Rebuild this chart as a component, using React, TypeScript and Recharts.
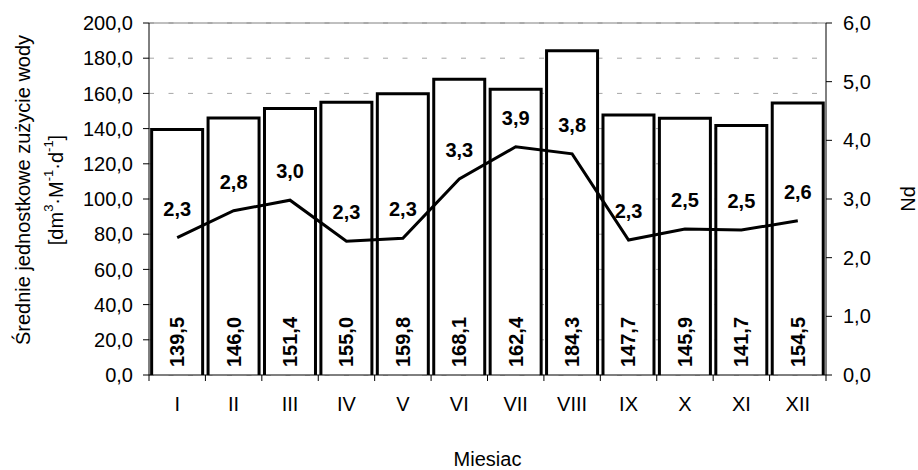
import React from 'react';
import {
  ComposedChart,
  Bar,
  Line,
  XAxis,
  YAxis,
  CartesianGrid,
  ReferenceLine,
  LabelList,
  Label,
} from 'recharts';

const months = ['I', 'II', 'III', 'IV', 'V', 'VI', 'VII', 'VIII', 'IX', 'X', 'XI', 'XII'];
const usage = [139.5, 146.0, 151.4, 155.0, 159.8, 168.1, 162.4, 184.3, 147.7, 145.9, 141.7, 154.5];
const nd = [2.34, 2.8, 2.98, 2.28, 2.33, 3.34, 3.89, 3.77, 2.3, 2.49, 2.47, 2.63];
const leftTicks = [0, 20, 40, 60, 80, 100, 120, 140, 160, 180, 200];
const rightTicks = [0, 1, 2, 3, 4, 5, 6];

const data = months.map((m, i) => ({ month: m, usage: usage[i], nd: nd[i] }));

const FONT = '"Liberation Sans", Arial, sans-serif';
const fmt = (v: number) => Number(v).toFixed(1).replace('.', ',');

const W = 918;
const H = 470;
const PLOT_LEFT = 149;
const PLOT_RIGHT = 826;
const BAND = (PLOT_RIGHT - PLOT_LEFT) / months.length;

const LeftTick = (props: any) => {
  const { x, y, payload } = props;
  return (
    <text x={x} y={y} dy="0.355em" textAnchor="end" fontFamily={FONT} fontSize={20} fill="#000">
      {fmt(payload.value)}
    </text>
  );
};

const RightTick = (props: any) => {
  const { x, y, payload } = props;
  return (
    <text x={x} y={y} dy="0.355em" textAnchor="start" fontFamily={FONT} fontSize={20} fill="#000">
      {fmt(payload.value)}
    </text>
  );
};

const XTick = (props: any) => {
  const { x, y, payload, index } = props;
  const axisY = y - 8;
  const left = x - BAND / 2;
  const right = x + BAND / 2;
  return (
    <g>
      <line x1={left} y1={axisY} x2={left} y2={axisY + 6} stroke="#000" strokeWidth={1} />
      {index === months.length - 1 && (
        <line x1={right} y1={axisY} x2={right} y2={axisY + 6} stroke="#000" strokeWidth={1} />
      )}
      <text x={x} y={axisY + 29} dy="0.355em" textAnchor="middle" fontFamily={FONT} fontSize={20} fill="#000">
        {payload.value}
      </text>
    </g>
  );
};

const BarShape = (props: any) => {
  const { x, y, width, height } = props;
  if (width == null || height == null) return null;
  return (
    <g>
      <rect x={x} y={y} width={width} height={height} fill="#fff" stroke="none" />
      <path
        d={`M${x},${y + height} L${x},${y} L${x + width},${y} L${x + width},${y + height}`}
        fill="none"
        stroke="#000"
        strokeWidth={3}
      />
    </g>
  );
};

const BarValueLabel = (props: any) => {
  const vb = props.viewBox ?? props;
  const x = vb.x ?? props.x;
  const y = vb.y ?? props.y;
  const width = vb.width ?? props.width;
  const height = vb.height ?? props.height;
  const cx = x + width / 2;
  const cy = y + height - 33;
  return (
    <text
      x={cx}
      y={cy}
      transform={`rotate(-90, ${cx}, ${cy})`}
      textAnchor="middle"
      dominantBaseline="central"
      fontFamily={FONT}
      fontSize={20}
      fontWeight="bold"
      fill="#000"
    >
      {fmt(props.value)}
    </text>
  );
};

const LineValueLabel = (props: any) => {
  const vb = props.viewBox ?? props;
  const x = vb.x ?? props.x;
  const y = vb.y ?? props.y;
  return (
    <text
      x={x}
      y={y - 29}
      textAnchor="middle"
      dominantBaseline="central"
      fontFamily={FONT}
      fontSize={20}
      fontWeight="bold"
      fill="#000"
    >
      {fmt(props.value)}
    </text>
  );
};

const LeftTitle = (props: any) => {
  const vb = props.viewBox;
  const cy = vb.y + vb.height / 2 - 9;
  const x1 = 23;
  const x2 = 56;
  return (
    <g>
      <text
        x={x1}
        y={cy}
        transform={`rotate(-90, ${x1}, ${cy})`}
        textAnchor="middle"
        dominantBaseline="central"
        fontFamily={FONT}
        fontSize={20}
        fill="#000"
      >
        Średnie jednostkowe zużycie wody
      </text>
      <text
        x={x2}
        y={cy}
        transform={`rotate(-90, ${x2}, ${cy})`}
        textAnchor="middle"
        dominantBaseline="central"
        fontFamily={FONT}
        fontSize={20}
        fill="#000"
      >
        <tspan>[dm</tspan>
        <tspan fontSize={13} dy={-8}>3</tspan>
        <tspan dy={8}>·M</tspan>
        <tspan fontSize={13} dy={-8}>-1</tspan>
        <tspan dy={8}>·d</tspan>
        <tspan fontSize={13} dy={-8}>-1</tspan>
        <tspan dy={8}>]</tspan>
      </text>
    </g>
  );
};

const RightTitle = (props: any) => {
  const vb = props.viewBox;
  const cx = vb.x + 82;
  const cy = vb.y + vb.height / 2;
  return (
    <text
      x={cx}
      y={cy}
      transform={`rotate(-90, ${cx}, ${cy})`}
      textAnchor="middle"
      dominantBaseline="central"
      fontFamily={FONT}
      fontSize={20}
      fill="#000"
    >
      Nd
    </text>
  );
};

const XTitle = (props: any) => {
  const vb = props.viewBox;
  const cx = vb.x + vb.width / 2;
  const cy = vb.y + 84;
  return (
    <text x={cx} y={cy} textAnchor="middle" dominantBaseline="central" fontFamily={FONT} fontSize={20} fill="#000">
      Miesiac
    </text>
  );
};

export default function App() {
  return (
    <div style={{ position: 'absolute', left: 0, top: 0, width: W, height: H, background: '#fff' }}>
      <ComposedChart
        width={W}
        height={H}
        data={data}
        margin={{ top: 23, right: 0, bottom: 0, left: 0 }}
        barCategoryGap="4.7%"
      >
        <CartesianGrid
          yAxisId="left"
          vertical={false}
          horizontal={true}
          stroke="#a6a6a6"
          strokeDasharray="5 14.5"
        />
        <XAxis
          dataKey="month"
          height={95}
          tick={<XTick />}
          tickLine={false}
          tickSize={0}
          tickMargin={8}
          axisLine={{ stroke: '#000', strokeWidth: 1 }}
          interval={0}
        >
          <Label content={<XTitle />} />
        </XAxis>
        <YAxis
          yAxisId="left"
          orientation="left"
          width={149}
          domain={[0, 200]}
          ticks={leftTicks}
          interval={0}
          tickSize={6}
          tickMargin={10}
          tickLine={{ stroke: '#000' }}
          axisLine={{ stroke: '#000', strokeWidth: 1 }}
          tick={<LeftTick />}
        >
          <Label content={<LeftTitle />} />
        </YAxis>
        <YAxis
          yAxisId="right"
          orientation="right"
          width={92}
          domain={[0, 6]}
          ticks={rightTicks}
          interval={0}
          tickSize={6}
          tickMargin={11}
          tickLine={{ stroke: '#000' }}
          axisLine={{ stroke: '#000', strokeWidth: 1 }}
          tick={<RightTick />}
        >
          <Label content={<RightTitle />} />
        </YAxis>
        <ReferenceLine yAxisId="left" y={200} stroke="#808080" strokeWidth={1} />
        <Bar yAxisId="left" dataKey="usage" shape={<BarShape />} isAnimationActive={false}>
          <LabelList dataKey="usage" content={<BarValueLabel />} />
        </Bar>
        <Line
          yAxisId="right"
          type="linear"
          dataKey="nd"
          stroke="#000"
          strokeWidth={3}
          dot={false}
          activeDot={false}
          isAnimationActive={false}
        >
          <LabelList dataKey="nd" content={<LineValueLabel />} />
        </Line>
      </ComposedChart>
    </div>
  );
}
